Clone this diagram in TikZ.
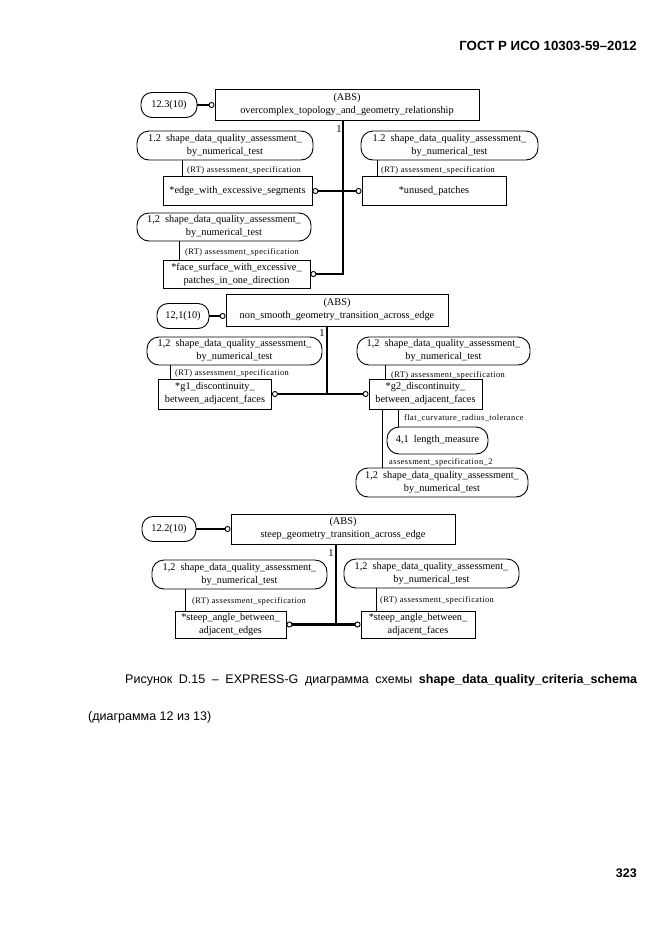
\documentclass[tikz,border=0pt]{standalone}
\usepackage{fontspec}
\setmainfont{Liberation Serif}
\newfontfamily\arial{Liberation Sans}
\newfontfamily\lblfont[LetterSpace=5]{Liberation Serif}
\usetikzlibrary{arrows.meta}
\tikzset{
  ent/.style={draw, line width=0.9pt, rectangle, inner sep=0pt, align=center, font=\fontsize{10.3}{13}\selectfont},
  rnd/.style={ent, rounded corners=12pt},
  lbl/.style={font=\lblfont\fontsize{8.4}{10}\selectfont, inner sep=0pt, anchor=west},
  one/.style={font=\fontsize{10.5}{12}\selectfont, inner sep=0pt},
  thk/.style={line width=2.8pt},
  thn/.style={line width=0.9pt},
  refl/.style={line width=1.4pt},
  Circ/.tip={Circle[length=6pt,width=6pt,line width=0.9pt,fill=white]},
  captxt/.style={font=\arial\fontsize{12.5}{15}\selectfont, inner sep=0pt},
  boldtxt/.style={font=\arial\bfseries\fontsize{12.5}{15}\selectfont, inner sep=0pt}
}
\begin{document}
\begin{tikzpicture}[x=1pt,y=-1pt]
\fill[white] (0,0) rectangle (661,935);
\useasboundingbox (0,0) rectangle (661,935);

% header
\node[boldtxt, anchor=east, font=\arial\bfseries\fontsize{13.3}{15}\selectfont] (hdr) at (637,46) {ГОСТ Р ИСО 10303-59–2012};

% ---------- top section ----------
\node[rnd, minimum width=56pt, minimum height=25pt, rounded corners=11pt] (ref1) at (169,105) {12.3(10)};
\node[ent, minimum width=264pt, minimum height=31pt] (abs1) at (347,104.5) {(ABS)\\overcomplex\_topology\_and\_geometry\_relationship};
\draw[refl,-Circ] (ref1.east) -- (ref1.east -| abs1.west);

\node[rnd, minimum width=176pt, minimum height=29pt] (sd1) at (225,145.5) {1.2\ \ shape\_data\_quality\_assessment\_\\by\_numerical\_test};
\node[ent, minimum width=149pt, minimum height=29pt] (edge) at (237.5,191) {*edge\_with\_excessive\_segments};
\draw[thn] ([xshift=20pt]edge.north west) -- ([xshift=20pt]edge.north west |- sd1.south);
\node[lbl] (l1) at (187,170) {(RT) assessment\_specification};

\node[rnd, minimum width=177pt, minimum height=29pt] (sd2) at (449.5,145.5) {1.2\ \ shape\_data\_quality\_assessment\_\\by\_numerical\_test};
\node[ent, minimum width=144pt, minimum height=29pt] (unused) at (434,191) {*unused\_patches};
\draw[thn] ([xshift=16pt]unused.north west) -- ([xshift=16pt]unused.north west |- sd2.south);
\node[lbl] (l2) at (381,170) {(RT) assessment\_specification};

\node[rnd, minimum width=174pt, minimum height=28pt] (sd3) at (224,227) {1,2\ \ shape\_data\_quality\_assessment\_\\by\_numerical\_test};
\node[ent, minimum width=147pt, minimum height=28pt] (face) at (236.5,274) {*face\_surface\_with\_excessive\_\\patches\_in\_one\_direction};
\draw[thn] ([xshift=17pt]face.north west) -- ([xshift=17pt]face.north west |- sd3.south);
\node[lbl] (l3) at (185,252) {(RT) assessment\_specification};

\coordinate (t1) at (343,0);
\draw[thk,-Circ] (abs1.south -| t1) |- (face.east);
\draw[thk,Circ-Circ] (edge.east) -- (unused.west);
\node[one] (one1) at (339,129) {1};

% ---------- middle section ----------
\node[rnd, minimum width=52pt, minimum height=25pt, rounded corners=11pt] (ref2) at (183,316) {12,1(10)};
\node[ent, minimum width=222pt, minimum height=32pt] (abs2) at (337,310) {(ABS)\\non\_smooth\_geometry\_transition\_across\_edge};
\draw[refl,-Circ] (ref2.east) -- (ref2.east -| abs2.west);

\node[rnd, minimum width=175pt, minimum height=28pt] (sd4) at (234.5,351) {1,2\ \ shape\_data\_quality\_assessment\_\\by\_numerical\_test};
\node[ent, minimum width=113pt, minimum height=30pt] (g1) at (215,394) {*g1\_discontinuity\_\\between\_adjacent\_faces};
\draw[thn] ([xshift=12pt]g1.north west) -- ([xshift=12pt]g1.north west |- sd4.south);
\node[lbl] (l4) at (175,373) {(RT) assessment\_specification};

\node[rnd, minimum width=173pt, minimum height=28pt] (sd5) at (443.5,351) {1,2\ \ shape\_data\_quality\_assessment\_\\by\_numerical\_test};
\node[ent, minimum width=113pt, minimum height=30pt] (g2) at (425.5,394) {*g2\_discontinuity\_\\between\_adjacent\_faces};
\draw[thn] ([xshift=17pt]g2.north west) -- ([xshift=17pt]g2.north west |- sd5.south);
\node[lbl] (l5) at (391,375) {(RT) assessment\_specification};

\node[rnd, minimum width=101pt, minimum height=27pt] (len) at (437.5,440.5) {4,1\ \ length\_measure};
\draw[thn] ([xshift=30pt]g2.south west) -- ([xshift=30pt]g2.south west |- len.north);
\node[lbl] (l6) at (404,418) {flat\_curvature\_radius\_tolerance};

\node[rnd, minimum width=172pt, minimum height=29pt] (sd6) at (442,482.5) {1,2\ \ shape\_data\_quality\_assessment\_\\by\_numerical\_test};
\draw[thn] ([xshift=14pt]g2.south west) -- ([xshift=14pt]g2.south west |- sd6.north);
\node[lbl] (l7) at (389,462) {assessment\_specification\_2};

\coordinate (t2) at (327,0);
\draw[thk] (abs2.south -| t2) -- (t2 |- g1.east);
\draw[thk,Circ-Circ] (g1.east) -- (g2.west);
\node[one] (one2) at (322,333) {1};

% ---------- bottom section ----------
\node[rnd, minimum width=54pt, minimum height=25pt, rounded corners=11pt] (ref3) at (169,529) {12.2(10)};
\node[ent, minimum width=224pt, minimum height=30pt] (abs3) at (343,529) {(ABS)\\steep\_geometry\_transition\_across\_edge};
\draw[refl,-Circ] (ref3.east) -- (ref3.east -| abs3.west);

\node[rnd, minimum width=175pt, minimum height=29pt] (sd7) at (239.5,574.5) {1,2\ \ shape\_data\_quality\_assessment\_\\by\_numerical\_test};
\node[ent, minimum width=111pt, minimum height=27pt] (se) at (230.5,624.5) {*steep\_angle\_between\_\\adjacent\_edges};
\draw[thn] ([xshift=11pt]se.north west) -- ([xshift=11pt]se.north west |- sd7.south);
\node[lbl] (l8) at (192,601) {(RT) assessment\_specification};

\node[rnd, minimum width=175pt, minimum height=29pt] (sd8) at (431.5,573.5) {1,2\ \ shape\_data\_quality\_assessment\_\\by\_numerical\_test};
\node[ent, minimum width=114pt, minimum height=27pt] (sf) at (418,624.5) {*steep\_angle\_between\_\\adjacent\_faces};
\draw[thn] ([xshift=16pt]sf.north west) -- ([xshift=16pt]sf.north west |- sd8.south);
\node[lbl] (l9) at (380,600) {(RT) assessment\_specification};

\coordinate (t3) at (336,0);
\draw[thk] (abs3.south -| t3) -- (t3 |- se.east);
\draw[thk,Circ-Circ] (se.east) -- (sf.west);
\node[one] (one3) at (331,553) {1};

% ---------- caption ----------
\node[captxt, anchor=west] (cap1) at (125,680) {\makebox[512pt][s]{Рисунок D.15 – EXPRESS-G диаграмма схемы \textbf{shape\_data\_quality\_criteria\_schema}}};
\node[captxt, anchor=west] (cap2) at (88,717) {(диаграмма 12 из 13)};
\node[boldtxt, anchor=east] (pg) at (637,873) {323};
\end{tikzpicture}
\end{document}
